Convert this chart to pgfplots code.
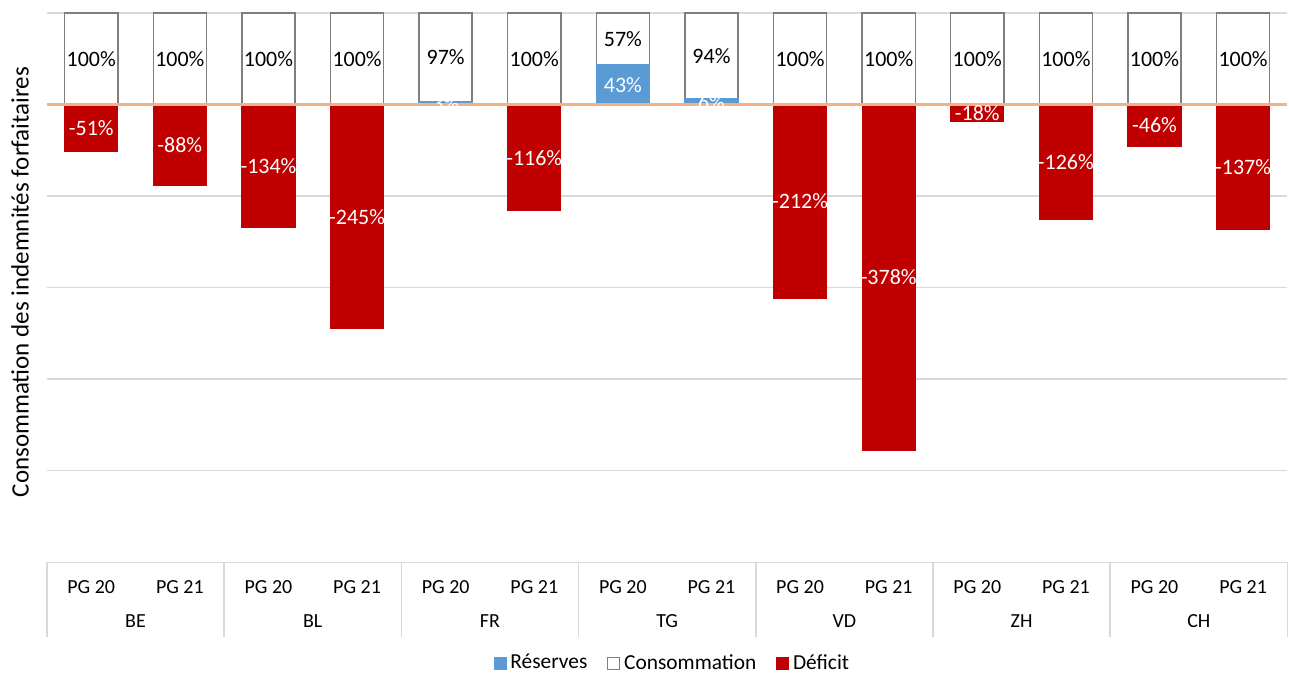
\documentclass[border=0pt]{standalone}
\usepackage{pgfplots}
\pgfplotsset{compat=1.18}
\usepackage{fontspec}
\setmainfont{Carlito}

\definecolor{reserve}{HTML}{5B9BD5}
\definecolor{deficit}{HTML}{C00000}
\definecolor{consom}{HTML}{7F7F7F}
\definecolor{zeroline}{HTML}{F4B183}
\definecolor{gridgray}{HTML}{D9D9D9}

\pgfplotsset{
  sq legend/.style={legend image code/.code={\draw[##1] (0pt,-3pt) rectangle (6pt,3pt);}},
}

\begin{document}
\begin{tikzpicture}
\begin{axis}[
  scale only axis,
  width=621pt, height=275pt,
  xmin=-0.5, xmax=13.5,
  ymin=-500, ymax=100,
  ybar,
  bar width=0.6,
  clip=false,
  axis line style={draw=none},
  major tick length=0pt,
  xtick={0,...,13},
  xticklabels={PG 20,PG 21,PG 20,PG 21,PG 20,PG 21,PG 20,PG 21,PG 20,PG 21,PG 20,PG 21,PG 20,PG 21},
  xticklabel style={font=\fontsize{10}{12}\selectfont, anchor=center, yshift=-12.5pt},
  ytick={-500,-400,-300,-200,-100,100},
  yticklabels={},
  ymajorgrids,
  grid style={draw=gridgray, line width=0.75pt},
  ylabel={Consommation des indemnités forfaitaires},
  ylabel style={at={(axis description cs:-0.0217,0.51)}, anchor=center, font=\fontsize{12.5}{14}\selectfont},
  legend style={at={(0.505,-0.1836)}, anchor=center, legend columns=-1, draw=none,
    font=\fontsize{10.7}{12}\selectfont,
    /tikz/every even column/.append style={column sep=8pt}},
]

\addlegendimage{sq legend, fill=reserve, draw=reserve}
\addlegendentry{Réserves}
\addlegendimage{sq legend, fill=white, draw=consom}
\addlegendentry{Consommation}
\addlegendimage{sq legend, fill=deficit, draw=deficit}
\addlegendentry{Déficit}

% consommation (full bar, reserves drawn on top)
\addplot[forget plot, bar shift=0pt, fill=white, draw=consom, line width=0.75pt]
coordinates {(0,100) (1,100) (2,100) (3,100) (4,100) (5,100) (6,100)
  (7,100) (8,100) (9,100) (10,100) (11,100) (12,100) (13,100)};

% reserves
\addplot[forget plot, bar shift=0pt, fill=reserve, draw=reserve, line width=0.75pt]
coordinates {(4,3) (6,43) (7,6)};

% deficit
\addplot[forget plot, bar shift=0pt, fill=deficit, draw=deficit, line width=0.5pt]
coordinates {(0,-51) (1,-88) (2,-134) (3,-245) (5,-116) (8,-212) (9,-378)
  (10,-18) (11,-126) (12,-46) (13,-137)};

\draw[zeroline, line width=1.6pt] (axis cs:-0.5,0) -- (axis cs:13.5,0);

% labels consommation
\addplot[forget plot, bar shift=0pt, draw=none, fill=none, nodes near coords,
  point meta=explicit symbolic,
  every node near coord/.append style={anchor=center, text=black, font=\fontsize{11}{13}\selectfont}]
coordinates {(0,50)[100\%] (1,50)[100\%] (2,50)[100\%] (3,50)[100\%] (4,51.5)[97\%]
  (5,50)[100\%] (6,71.5)[57\%] (7,53)[94\%] (8,50)[100\%] (9,50)[100\%]
  (10,50)[100\%] (11,50)[100\%] (12,50)[100\%] (13,50)[100\%]};

% labels reserves
\addplot[forget plot, bar shift=0pt, draw=none, fill=none, nodes near coords,
  point meta=explicit symbolic,
  every node near coord/.append style={anchor=center, text=white, font=\fontsize{11}{13}\selectfont}]
coordinates {(4,1.5)[3\%] (6,21.5)[43\%] (7,3)[6\%]};

% labels deficit
\addplot[forget plot, bar shift=0pt, draw=none, fill=none, nodes near coords,
  point meta=explicit symbolic,
  every node near coord/.append style={anchor=center, text=white, font=\fontsize{11}{13}\selectfont}]
coordinates {(0,-25.5)[-51\%] (1,-44)[-88\%] (2,-67)[-134\%] (3,-122.5)[-245\%]
  (5,-58)[-116\%] (8,-106)[-212\%] (9,-189)[-378\%] (10,-9)[-18\%]
  (11,-63)[-126\%] (12,-23)[-46\%] (13,-68.5)[-137\%]};

% group separators and names
\pgfplotsinvokeforeach{-0.5,1.5,3.5,5.5,7.5,9.5,11.5,13.5}{
  \draw[gridgray, line width=0.75pt] (axis cs:#1,-500) -- ++(0pt,-37.5pt);
}
\node[yshift=-29.5pt, font=\fontsize{10}{12}\selectfont] at (axis cs:0.5,-500) {BE};
\node[yshift=-29.5pt, font=\fontsize{10}{12}\selectfont] at (axis cs:2.5,-500) {BL};
\node[yshift=-29.5pt, font=\fontsize{10}{12}\selectfont] at (axis cs:4.5,-500) {FR};
\node[yshift=-29.5pt, font=\fontsize{10}{12}\selectfont] at (axis cs:6.5,-500) {TG};
\node[yshift=-29.5pt, font=\fontsize{10}{12}\selectfont] at (axis cs:8.5,-500) {VD};
\node[yshift=-29.5pt, font=\fontsize{10}{12}\selectfont] at (axis cs:10.5,-500) {ZH};
\node[yshift=-29.5pt, font=\fontsize{10}{12}\selectfont] at (axis cs:12.5,-500) {CH};
\end{axis}
\path (current axis.north west) ++(-23.5pt,6.5pt) (current axis.south east) ++(0pt,-56pt);
\end{tikzpicture}
\end{document}
